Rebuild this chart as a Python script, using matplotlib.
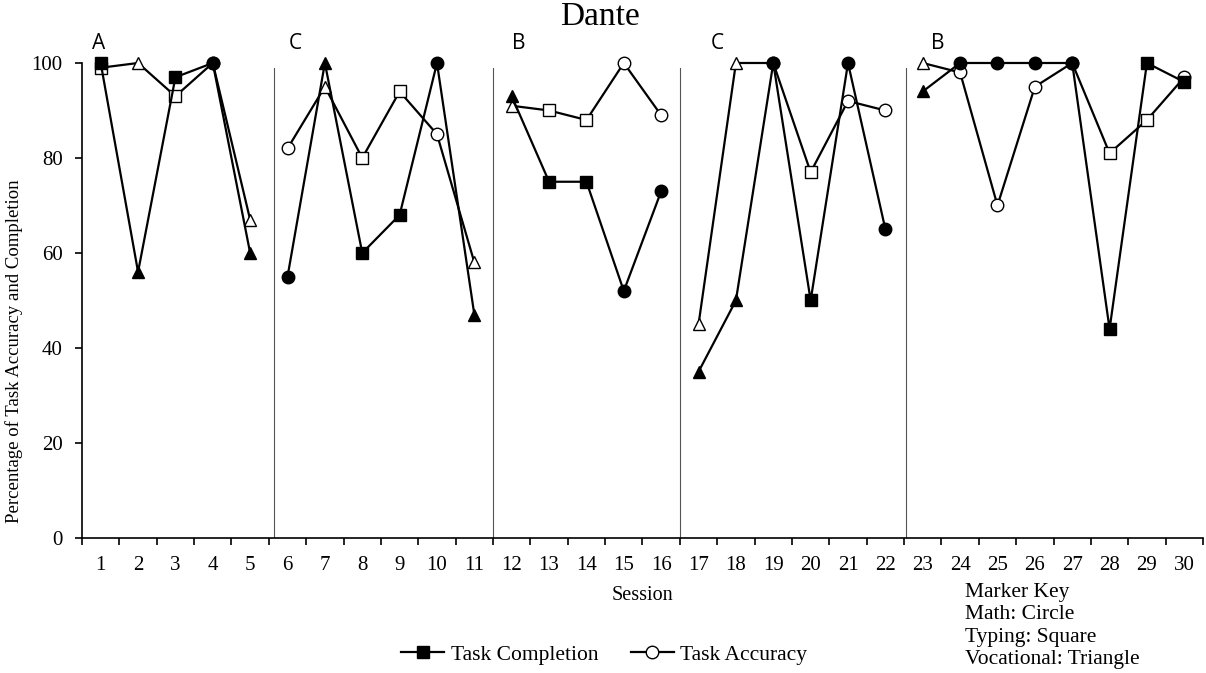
import matplotlib.pyplot as plt
from matplotlib.lines import Line2D

plt.rcParams['font.family'] = ['Liberation Serif', 'DejaVu Serif']

sessions = list(range(1, 31))
completion = [100, 56, 97, 100, 60,
              55, 100, 60, 68, 100, 47,
              93, 75, 75, 52, 73,
              35, 50, 100, 50, 100, 65,
              94, 100, 100, 100, 100, 44, 100, 96]
accuracy = [99, 100, 93, 100, 67,
            82, 95, 80, 94, 85, 58,
            91, 90, 88, 100, 89,
            45, 100, 100, 77, 92, 90,
            100, 98, 70, 95, 100, 81, 88, 97]
# M = math (circle), T = typing (square), V = vocational (triangle)
comp_task = ['T', 'V', 'T', 'M', 'V',
             'M', 'V', 'T', 'T', 'M', 'V',
             'V', 'T', 'T', 'M', 'M',
             'V', 'V', 'M', 'T', 'M', 'M',
             'V', 'M', 'M', 'M', 'M', 'T', 'T', 'T']
acc_task = comp_task[:-1] + ['M']
phase_names = ['A', 'C', 'B', 'C', 'B']
phase_start = [1, 6, 12, 17, 23]
phase_end = [5, 11, 16, 22, 30]
phase_lines = [5.65, 11.5, 16.5, 22.55]

shapes = {'M': 'o', 'T': 's', 'V': '^'}

fig = plt.figure(figsize=(12.06, 6.73), dpi=100)
ax = fig.add_axes([0.068, 0.2006, 0.9295, 0.7058])

def draw(values, kinds, filled, z):
    for s0, s1 in zip(phase_start, phase_end):
        xs = sessions[s0 - 1:s1]
        ys = values[s0 - 1:s1]
        ax.plot(xs, ys, color='black', lw=1.6, zorder=z, clip_on=False)
    for x, y, k in zip(sessions, values, kinds):
        ax.plot(x, y, marker=shapes[k], ms=9 if k != '^' else 8.5,
                mfc='black' if filled else 'white',
                mec='black', mew=1.0, ls='none', zorder=z + 0.5, clip_on=False)

draw(accuracy, acc_task, False, 2)
draw(completion, comp_task, True, 4)

for x in phase_lines:
    ax.plot([x, x], [0, 99], color='#555555', lw=0.8, zorder=1)

phase_x = [0.95, 6.2, 12.2, 17.5, 23.4]
for x, name in zip(phase_x, phase_names):
    ax.text(x, 104.2, name, family='Open Sans', fontsize=15,
            ha='center', va='center')

ax.set_xlim(0.5, 30.5)
ax.set_ylim(0, 100)
ax.spines['top'].set_visible(False)
ax.spines['right'].set_visible(False)
ax.spines['left'].set_linewidth(1.2)
ax.spines['bottom'].set_linewidth(1.2)

ax.set_yticks([0, 20, 40, 60, 80, 100])
ax.tick_params(axis='y', labelsize=15, length=5, width=1.2, pad=9)
ax.set_xticks(sessions)
ax.set_xticks([s - 0.5 for s in sessions] + [30.5], minor=True)
ax.tick_params(axis='x', which='major', length=0, labelsize=15, pad=13)
ax.tick_params(axis='x', which='minor', length=5, width=1.2)

ax.set_xlabel('Session', fontsize=14.5, labelpad=8)
ax.set_ylabel('Percentage of Task Accuracy and Completion', fontsize=13.5)
ax.yaxis.set_label_coords(-0.053, 0.394)
fig.suptitle('Dante', x=0.4975, y=0.975, fontsize=24, va='center')

handles = [
    Line2D([], [], color='black', lw=1.6, marker='s', ms=9, mfc='black', mec='black'),
    Line2D([], [], color='black', lw=1.6, marker='o', ms=9, mfc='white', mec='black'),
]
fig.legend(handles, ['Task Completion', 'Task Accuracy'], loc='center',
           bbox_to_anchor=(0.501, 0.027), ncol=2, frameon=False, fontsize=15.5,
           handlelength=2.0, handletextpad=0.3, columnspacing=1.5)

fig.text(0.8, 0.07, 'Marker Key\nMath: Circle\nTyping: Square\nVocational: Triangle',
         fontsize=15.5, va='center', ha='left', linespacing=1.25)

fig.savefig('out.png', dpi=100)
